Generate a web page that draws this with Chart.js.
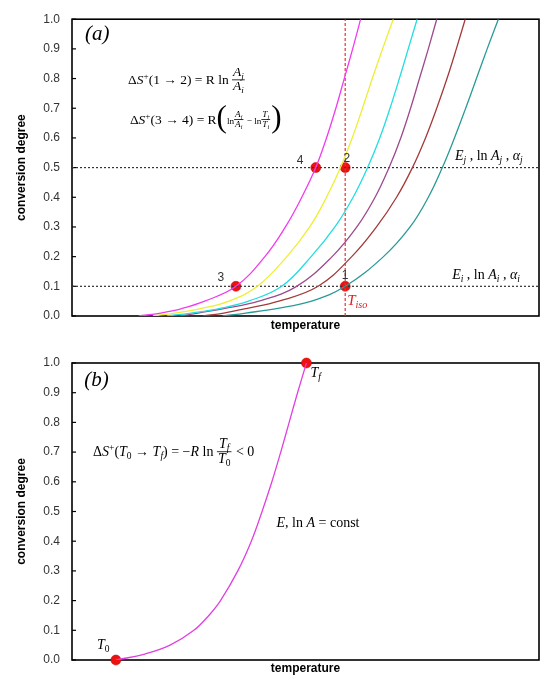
<!DOCTYPE html>
<html>
<head>
<meta charset="utf-8">
<script src="https://cdn.jsdelivr.net/npm/chart.js@4.4.0/dist/chart.umd.min.js"></script>
<style>
  body { margin: 0; background: #fff; }
  canvas { display: block; }
</style>
</head>
<body>
<canvas id="chartA" width="550" height="340"></canvas>
<canvas id="chartB" width="550" height="343"></canvas>
<script>
// Data (temperature in arbitrary units 0-100, conversion degree 0-1)
const convSteps = [0, 0.01, 0.025, 0.05, 0.1, 0.2, 0.3, 0.4, 0.5, 0.6, 0.7, 0.8, 0.9, 1.0];
const magentaT = [14.3, 19.0, 23.5, 28.4, 35.1, 41.3, 45.7, 49.2, 52.2, 54.5, 56.5, 58.3, 60.1, 61.8];
const yellowT = [17.3, 22.0, 27.6, 33.6, 39.7, 46.0, 50.9, 54.5, 57.5, 60.0, 62.2, 64.3, 66.5, 68.8];
const cyanT = [20.3, 25.5, 31.5, 37.8, 44.9, 51.2, 56.3, 60.2, 63.3, 65.9, 68.1, 70.1, 72.0, 73.9];
const purpleT = [23.1, 27.0, 32.5, 40.0, 48.1, 55.7, 61.0, 64.9, 67.9, 70.4, 72.5, 74.4, 76.3, 78.1];
const brownT = [28.1, 32.5, 37.3, 44.3, 52.7, 59.9, 65.2, 69.5, 72.9, 75.7, 78.1, 80.3, 82.3, 84.2];
const tealT = [32.3, 37.2, 43.8, 51.3, 58.5, 66.7, 72.4, 76.3, 79.3, 81.9, 84.3, 86.6, 88.9, 91.3];

const levels = [0.1, 0.5];           // dotted horizontal lines
const tIso = 58.5;                   // red vertical line
const markT = [58.5, 58.5, 35.1, 52.2];
const markA = [0.1, 0.5, 0.1, 0.5];
const markLabels = ['1', '2', '3', '4'];

const singleT = [9.4, 15.6, 21.0, 26.1, 29.3, 31.8, 35.5, 38.4, 40.7, 42.8, 44.7, 46.5, 48.3, 50.2];
const singleA = [0, 0.02, 0.05, 0.1, 0.15, 0.2, 0.3, 0.4, 0.5, 0.6, 0.7, 0.8, 0.9, 1.0];
const endT = [9.4, 50.2];
const endA = [0, 1.0];

const yTicks = [0, 0.1, 0.2, 0.3, 0.4, 0.5, 0.6, 0.7, 0.8, 0.9, 1.0];

const SANS = '"Liberation Sans", Arial, sans-serif';
const SERIF = '"Liberation Serif", "Times New Roman", serif';

const pts = (xs, ys) => xs.map((x, i) => ({ x, y: ys[i] }));

function curve(xs, ys, color) {
    return {
        type: 'line', data: pts(xs, ys), borderColor: color, borderWidth: 1.3,
        pointRadius: 0, tension: 0.4, fill: false
    };
}

function dotted(data, color, dash) {
    return {
        type: 'line', data, borderColor: color, borderWidth: 1.2, borderDash: dash,
        pointRadius: 0, fill: false, tension: 0
    };
}

function markers(xs, ys) {
    return {
        type: 'scatter', data: pts(xs, ys), pointRadius: 5, pointBackgroundColor: '#ee1111',
        pointBorderColor: '#cc0000', pointBorderWidth: 0.5, clip: false
    };
}

// little math typesetter: runs of text with italics, sub/superscripts and fractions
function runMath(ctx, x, y, items, size, draw = true) {
    let cx = x;
    items.forEach(it => {
        if (it.f) {
            const fs = size * (it.k || 1);
            const wn = runMath(ctx, 0, 0, it.f[0], fs, false);
            const wd = runMath(ctx, 0, 0, it.f[1], fs, false);
            const w = Math.max(wn, wd) + 2;
            const barY = y - size * 0.3;
            if (draw) {
                ctx.fillRect(cx, barY - 0.4, w, 0.8);
                runMath(ctx, cx + (w - wn) / 2, barY - fs * 0.3, it.f[0], fs);
                runMath(ctx, cx + (w - wd) / 2, barY + fs * 0.78, it.f[1], fs);
            }
            cx += w + 1;
            return;
        }
        let fs = size * (it.k || 1), dy = 0;
        if (it.s === 'sub') { fs = size * 0.68; dy = size * 0.22; }
        if (it.s === 'sup') { fs = size * 0.68; dy = -size * 0.38; }
        if (it.big) { fs = size * it.big; dy = size * 0.25; }
        ctx.font = (it.i ? 'italic ' : '') + fs + 'px ' + SERIF;
        if (draw) ctx.fillText(it.t, cx, y + dy);
        cx += ctx.measureText(it.t).width;
    });
    return cx - x;
}

const it = t => ({ t, i: 1 });
const sub = t => ({ t, i: 1, s: 'sub' });
const up = t => ({ t });

const eq1 = [up('Δ'), it('S'), { t: '+', s: 'sup' }, up('(1 → 2) = R ln '),
    { f: [[it('A'), sub('j')], [it('A'), sub('i')]] }];
const eq2 = [up('Δ'), it('S'), { t: '+', s: 'sup' }, up('(3 → 4) = R'), { t: '(', big: 2.3 },
    { t: 'ln', k: 0.68 }, { f: [[it('A'), sub('j')], [it('A'), sub('i')]], k: 0.68 },
    { t: ' − ln', k: 0.68 }, { f: [[it('T'), sub('j')], [it('T'), sub('i')]], k: 0.68 },
    { t: ')', big: 2.3 }];
const labJ = [it('E'), sub('j'), up(' , ln '), it('A'), sub('j'), up(' , '), it('α'), sub('j')];
const labI = [it('E'), sub('i'), up(' , ln '), it('A'), sub('i'), up(' , '), it('α'), sub('i')];
const labIso = [it('T'), sub('iso')];
const eq3 = [up('Δ'), it('S'), { t: '+', s: 'sup' }, up('('), it('T'), { t: '0', s: 'sub' }, up(' → '),
    it('T'), sub('f'), up(') = −'), it('R'), up(' ln '),
    { f: [[it('T'), sub('f')], [it('T'), { t: '0', s: 'sub' }]] }, up(' < 0')];
const eq4 = [it('E'), up(', ln '), it('A'), up(' = const')];
const labT0 = [it('T'), { t: '0', s: 'sub' }];
const labTf = [it('T'), sub('f')];

// frame round the plot area plus inward tick marks on the y axis
const framePlugin = {
    id: 'frame',
    beforeDatasetsDraw(chart) {
        const { ctx, chartArea: a, scales: { y } } = chart;
        ctx.save();
        ctx.strokeStyle = '#000';
        ctx.lineWidth = 1.6;
        ctx.strokeRect(a.left, a.top, a.right - a.left, a.bottom - a.top);
        ctx.lineWidth = 1.2;
        yTicks.forEach(v => {
            const py = y.getPixelForValue(v);
            ctx.beginPath();
            ctx.moveTo(a.left, py);
            ctx.lineTo(a.left + 4, py);
            ctx.stroke();
        });
        ctx.restore();
    }
};

function notesPlugin(draw) {
    return {
        id: 'notes',
        afterDatasetsDraw(chart) {
            const ctx = chart.ctx;
            const px = v => chart.scales.x.getPixelForValue(v);
            const py = v => chart.scales.y.getPixelForValue(v);
            ctx.save();
            ctx.fillStyle = '#000';
            ctx.textBaseline = 'alphabetic';
            draw(ctx, px, py);
            ctx.restore();
        }
    };
}

function makeChart(id, datasets, padTop, xHeight, titlePad, notes) {
    return new Chart(document.getElementById(id), {
        type: 'scatter',
        data: { datasets },
        options: {
            responsive: false,
            animation: false,
            layout: { padding: { top: padTop, right: 11, left: 0, bottom: 0 } },
            plugins: { legend: { display: false }, tooltip: { enabled: false } },
            scales: {
                x: {
                    type: 'linear', min: 0, max: 100,
                    ticks: { display: false },
                    grid: { display: false, drawTicks: false },
                    border: { display: false },
                    title: {
                        display: true, text: 'temperature', color: '#000',
                        font: { family: SANS, size: 12, weight: 'bold' },
                        padding: { top: 0, bottom: titlePad }
                    },
                    afterFit: s => { s.height = xHeight; }
                },
                y: {
                    min: 0, max: 1,
                    ticks: {
                        stepSize: 0.1, padding: 12, color: '#333',
                        font: { family: SANS, size: 12 },
                        callback: v => v.toFixed(1)
                    },
                    grid: { display: false, drawTicks: false },
                    border: { display: false },
                    title: {
                        display: true, text: 'conversion degree', color: '#000',
                        font: { family: SANS, size: 12, weight: 'bold' },
                        padding: { top: 14, bottom: 0 }
                    },
                    afterFit: s => { s.width = 72; }
                }
            }
        },
        plugins: [framePlugin, notesPlugin(notes)]
    });
}

// (a) family of curves
const setA = [
    curve(magentaT, convSteps, '#f03cf0'),
    curve(yellowT, convSteps, '#eeee33'),
    curve(cyanT, convSteps, '#22dde2'),
    curve(purpleT, convSteps, '#9c4a8c'),
    curve(brownT, convSteps, '#a33a3a'),
    curve(tealT, convSteps, '#2a9a96'),
    ...levels.map(v => dotted([{ x: 0, y: v }, { x: 100, y: v }], '#333', [2, 2])),
    dotted([{ x: tIso, y: 0 }, { x: tIso, y: 1 }], '#e83030', [3, 2]),
    markers(markT, markA)
];

makeChart('chartA', setA, 18, 24, 7.5, (ctx, px, py) => {
    ctx.font = 'italic 21px ' + SERIF;
    ctx.fillText('(a)', px(2.8), py(0.931));
    runMath(ctx, px(12.0), py(0.782), eq1, 13.5);
    runMath(ctx, px(12.4), py(0.648), eq2, 13.5);
    runMath(ctx, px(82), py(0.525), labJ, 14);
    runMath(ctx, px(81.4), py(0.124), labI, 14);
    ctx.fillStyle = '#e02020';
    runMath(ctx, px(tIso) + 2, py(0.037), labIso, 15);
    ctx.fillStyle = '#333';
    ctx.font = '12px ' + SANS;
    ctx.textAlign = 'center';
    const offs = [[0, -7.4], [1.7, -6], [-15, -5], [-15.7, -3.4]];
    markLabels.forEach((s, i) => {
        ctx.fillText(s, px(markT[i]) + offs[i][0], py(markA[i]) + offs[i][1]);
    });
});

// (b) single curve at constant E, ln A
const setB = [
    curve(singleT, singleA, '#e040e0'),
    markers(endT, endA)
];

makeChart('chartB', setB, 23, 23, 6.8, (ctx, px, py) => {
    ctx.font = 'italic 21px ' + SERIF;
    ctx.fillText('(b)', px(2.6), py(0.924));
    runMath(ctx, px(4.5), py(0.687), eq3, 14);
    runMath(ctx, px(43.8), py(0.448), eq4, 14);
    runMath(ctx, px(endT[0]) - 19, py(endA[0]) - 11, labT0, 14);
    runMath(ctx, px(endT[1]) + 4, py(endA[1]) + 14, labTf, 14);
});
</script>
</body>
</html>
